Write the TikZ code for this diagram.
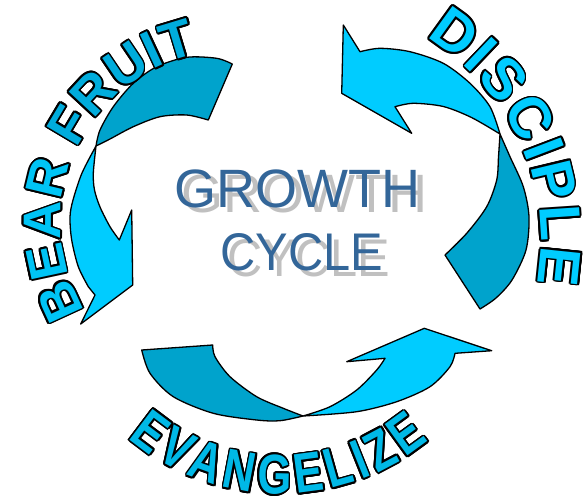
\documentclass[tikz,border=0pt]{standalone}
\usepackage{fontspec}
\setmainfont{Liberation Sans}
\newfontfamily\wafont{Liberation Sans}
\newfontfamily\evfont[FakeStretch=0.78]{Liberation Sans}
\newfontfamily\cyfont[FakeStretch=0.92]{Liberation Sans}
\usetikzlibrary{decorations.text}
\definecolor{lightc}{RGB}{0,204,255}
\definecolor{darkc}{RGB}{0,163,204}
\definecolor{bearc}{RGB}{0,196,245}
\definecolor{fruitc}{RGB}{0,172,220}
\definecolor{discc}{RGB}{0,204,255}
\definecolor{evanc}{RGB}{0,184,230}
\definecolor{bluec}{RGB}{51,102,153}
\definecolor{shadowc}{RGB}{192,192,192}
\tikzset{
  band/.style={draw=black, line width=1.3pt, line join=round},
  centertext/.style={anchor=base, inner sep=0pt},
}
\begin{document}
\begin{tikzpicture}[x=1pt,y=1pt]
\useasboundingbox (0,0) rectangle (585,-499);

% ---------- top-left arrow (dark part, then light part) ----------
\filldraw[band, fill=darkc] plot[smooth] coordinates {(232.3,-64) (216.7,-58.3) (186.7,-57.3) (156.7,-66.7) (133.3,-83.3) (113.3,-106.7) (100,-130) (96,-146)}
  -- plot[smooth] coordinates {(96,-146) (110,-139) (133.3,-126.7) (160,-116.7) (186.7,-115) (208.3,-120)} -- cycle;
\filldraw[band, fill=lightc] plot[smooth] coordinates {(96,-146) (82,-173) (73,-200) (70,-217) (71.7,-240) (78.3,-266.7) (88.3,-286.7)}
  -- (95,-295) -- (80.7,-324) -- (132.7,-285) -- (131.7,-210)
  -- plot[smooth] coordinates {(119.3,-240) (110,-226.7) (100,-207) (94.5,-190) (93.3,-173.3) (96,-146)} -- cycle;

% ---------- right arrow ----------
\filldraw[band, fill=lightc] plot[smooth] coordinates {(500,-134) (490,-106.7) (470,-83.3) (443.3,-63.3) (410,-51.7) (380,-48.3) (360,-51.7)}
  -- (343.3,-25) -- (341.7,-93.3) -- (411.7,-133.3)
  -- plot[smooth] coordinates {(395,-106.7) (413.3,-103.3) (443.3,-106.5) (471.5,-117.5) (500,-134)} -- cycle;
\filldraw[band, fill=darkc] plot[smooth] coordinates {(500,-134) (510,-156.7) (523.3,-186.7) (529,-216.7) (526,-250) (512,-280) (496,-298) (480,-309)}
  -- plot[smooth] coordinates {(445,-255) (466.7,-233.3) (486.7,-206.7) (496.7,-180) (498.5,-156.7) (500,-134)} -- cycle;

% ---------- bottom arrow ----------
\filldraw[band, fill=darkc] (141.7,-350) -- (212.7,-345)
  -- plot[smooth] coordinates {(212.7,-345) (215,-356.7) (230,-376.7) (256.7,-396.7) (283.3,-408.3) (303,-416)}
  -- plot[smooth] coordinates {(303,-416) (280,-420.7) (256.7,-420) (213.3,-413.3) (173.3,-396.7) (150,-373.3) (141.7,-350)} -- cycle;
\filldraw[band, fill=lightc] plot[smooth] coordinates {(303,-416) (330,-406.7) (356.7,-390) (376.7,-370) (385,-358.3)}
  -- (346.7,-361.7) -- (424.3,-328.3) -- (491.7,-350.7) -- (455,-353.3)
  -- plot[smooth] coordinates {(455,-353.3) (450,-366.7) (430,-386.7) (396.7,-401.7) (356.7,-411.7) (303,-416)} -- cycle;

% ---------- centre text ----------
\node[centertext, text=shadowc, font=\fontsize{54}{54}\selectfont] (growths) at (304.5,-212.8) {GROWTH};
\node[centertext, text=bluec, font=\fontsize{54}{54}\selectfont] (growth) at (297.5,-207.3) {GROWTH};
\node[centertext, text=shadowc, font=\cyfont\fontsize{53}{53}\selectfont] (cycles) at (309.2,-276) {CYCLE};
\node[centertext, text=bluec, font=\cyfont\fontsize{53}{53}\selectfont] (cycle) at (301.7,-270.5) {CYCLE};

% ---------- arched words: black outline copies, then fill ----------
\foreach \k in {0,22.5,...,337.5}{
  \path[shift={(\k:1.8)}, decorate, decoration={text along path, text align=fit to path,
    text={|\wafont\bfseries\fontsize{53}{53}\selectfont\color{black}|BEAR FRUIT}}]
    (232,-222) ++(-148.9:171.5) arc[start angle=-148.9, end angle=-258.6, radius=171.5];
  \path[shift={(\k:1.8)}, decorate, decoration={text along path, text align=fit to path,
    text={|\wafont\bfseries\fontsize{58}{58}\selectfont\color{black}|DISCIPLE}}]
    (305,-240) ++(59.2:236) arc[start angle=59.2, end angle=-10.6, radius=236];
  \path[shift={(\k:1.8)}, decorate, decoration={text along path, text align=fit to path,
    text={|\evfont\bfseries\fontsize{56}{56}\selectfont\color{black}|EVANGELIZE}}]
    (280,-260) ++(-130.5:234) arc[start angle=-130.5, end angle=-50.5, radius=234];
}
\path[decorate, decoration={text along path, text align=fit to path,
    text={|\wafont\bfseries\fontsize{53}{53}\selectfont\color{bearc}|BEAR |\wafont\bfseries\fontsize{53}{53}\selectfont\color{fruitc}|FRUIT}}]
    (232,-222) ++(-148.9:171.5) arc[start angle=-148.9, end angle=-258.6, radius=171.5];
\path[decorate, decoration={text along path, text align=fit to path,
    text={|\wafont\bfseries\fontsize{58}{58}\selectfont\color{discc}|DISCIPLE}}]
    (305,-240) ++(59.2:236) arc[start angle=59.2, end angle=-10.6, radius=236];
\path[decorate, decoration={text along path, text align=fit to path,
    text={|\evfont\bfseries\fontsize{56}{56}\selectfont\color{evanc}|EVANGELIZE}}]
    (280,-260) ++(-130.5:234) arc[start angle=-130.5, end angle=-50.5, radius=234];
\end{tikzpicture}
\end{document}
